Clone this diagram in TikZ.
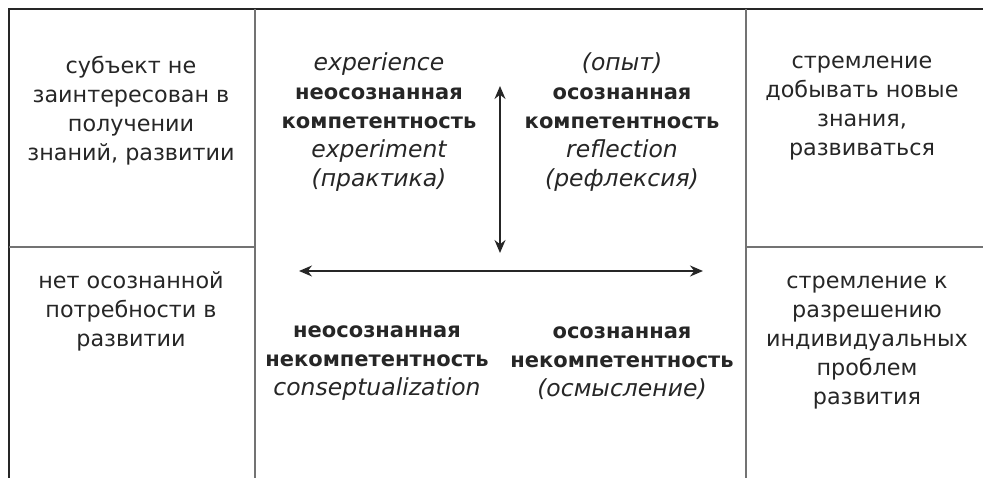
\documentclass[tikz,border=0pt]{standalone}
\usepackage{fontspec}
\setmainfont{DejaVu Sans}
\usepackage{xcolor}
\usetikzlibrary{positioning,arrows.meta}

\newcommand{\heavy}[1]{{\fontsize{21}{29}\selectfont\bfseries #1}}
\newcommand{\slanted}[1]{{\fontsize{23.5}{29}\selectfont\itshape #1}}

\begin{document}
\begin{tikzpicture}[x=1pt, y=-1pt,
  outer/.style={line width=1.6pt, black!85},
  inner/.style={line width=1.4pt, black!55},
  cell/.style={align=center, inner sep=0pt, text=black!85, font=\fontsize{22.3}{29}\selectfont},
  axis/.style={{Stealth[length=13pt,width=11pt]}-{Stealth[length=13pt,width=11pt]}, line width=1.4pt, black!85}
]
\useasboundingbox (0,0) rectangle (983,478);

% Table lines
\draw[outer] (983,9) -- (9,9) -- (9,478);
\draw[inner] (255,9) -- (255,478);
\draw[inner] (746,9) -- (746,478);
\draw[inner] (9,247) -- (255,247);
\draw[inner] (746,247) -- (983,247);

% Side columns
\node[cell] (motivtop) at (131,111) {субъект не\\заинтересован в\\получении\\знаний, развитии};
\node[cell] (motivbot) at (131,311) {нет осознанной\\потребности в\\развитии};
\node[cell] (aimtop) at (862,108) {стремление\\добывать новые\\знания,\\развиваться};
\node[cell] (aimbot) at (867,343) {стремление к\\разрешению\\индивидуальных\\проблем\\развития};

% Quadrants
\node[cell] (uc) at (379,122) {\slanted{experience}\\\heavy{неосознанная}\\\heavy{компетентность}\\\slanted{experiment}\\\slanted{(практика)}};
\node[cell] (cc) at (622,122) {\slanted{(опыт)}\\\heavy{осознанная}\\\heavy{компетентность}\\\slanted{reflection}\\\slanted{(рефлексия)}};
\node[cell] (ui) at (377,363) {\heavy{неосознанная}\\\heavy{некомпетентность}\\\slanted{conseptualization}};
\node[cell] (ci) at (622,363) {\heavy{осознанная}\\\heavy{некомпетентность}\\\slanted{(осмысление)}};

% Axes
\coordinate (vtop) at (500,86);
\coordinate (vbot) at (500,253);
\coordinate (hleft) at (299,271);
\coordinate (hright) at (703,271);
\draw[axis] (vtop) -- (vbot);
\draw[axis] (hleft) -- (hright);

\end{tikzpicture}
\end{document}
